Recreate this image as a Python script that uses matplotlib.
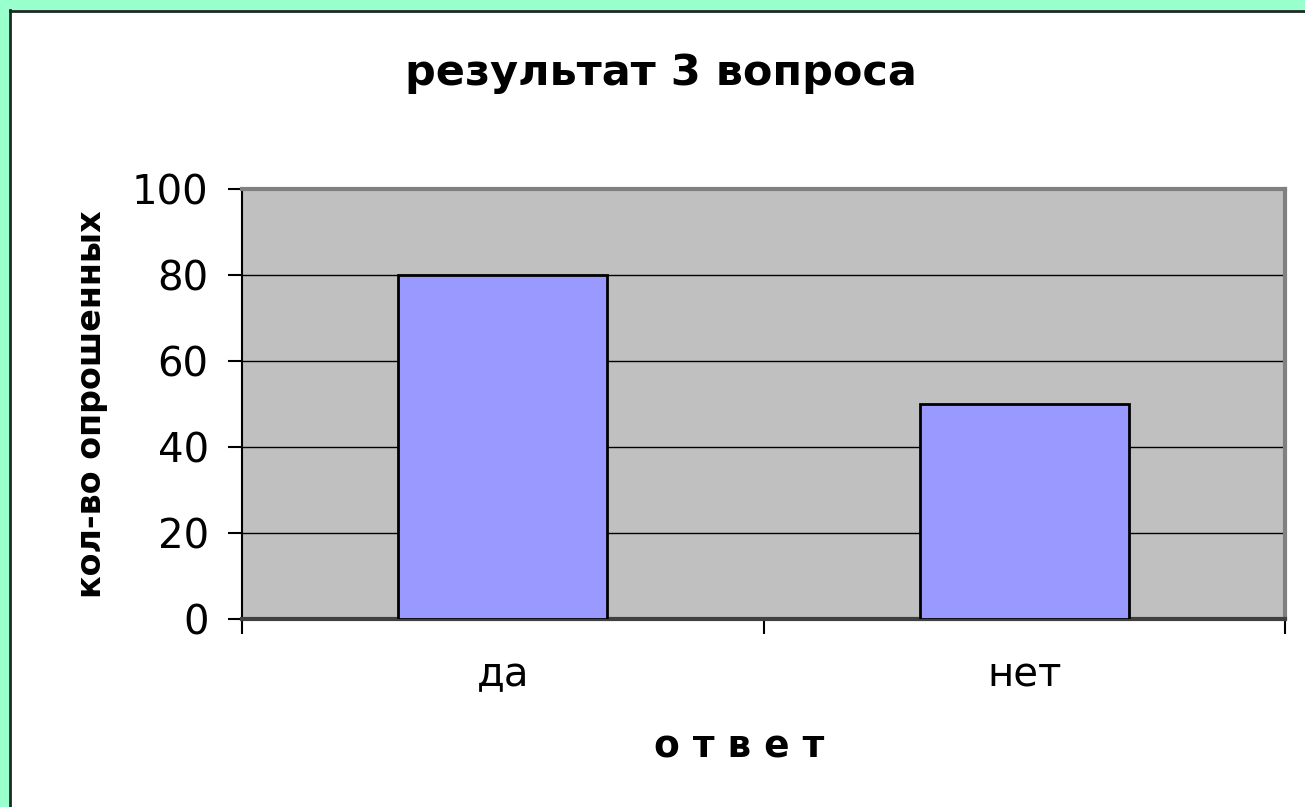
import matplotlib.pyplot as plt
from matplotlib.patches import Rectangle
from matplotlib.lines import Line2D

categories = ["да", "нет"]
values = [80, 50]
y_ticks = [0, 20, 40, 60, 80, 100]

plt.rcParams['font.family'] = ['DejaVu Sans']

fig = plt.figure(figsize=(13.05, 8.07), dpi=100)
fig.patch.set_facecolor('white')

# green frame on top and left, with a dark inner line
W, H = 1305, 807
fig.add_artist(Rectangle((0, 1 - 10 / H), 1, 10 / H, transform=fig.transFigure,
                         facecolor='#99FFCC', edgecolor='none'))
fig.add_artist(Rectangle((0, 0), 9 / W, 1, transform=fig.transFigure,
                         facecolor='#99FFCC', edgecolor='none'))
fig.add_artist(Line2D([9.5 / W, 9.5 / W], [0, 1 - 10 / H], transform=fig.transFigure,
                      color='#1a2a22', lw=2))
fig.add_artist(Line2D([9.5 / W, 1], [1 - 10.5 / H, 1 - 10.5 / H], transform=fig.transFigure,
                      color='#1a2a22', lw=2))

ax = fig.add_axes([242 / W, 1 - 619 / H, (1285 - 242) / W, (619 - 189) / H])
ax.set_facecolor('#C0C0C0')

x = list(range(len(categories)))
ax.bar(x, values, width=0.4, color='#9999FF', edgecolor='black', linewidth=2, zorder=3)

ax.set_xlim(-0.5, len(categories) - 0.5)
ax.set_ylim(0, 100)
ax.set_yticks(y_ticks)
ax.set_yticklabels([str(v) for v in y_ticks], fontsize=29)
ax.yaxis.grid(True, color='black', linewidth=1, zorder=1)
ax.set_axisbelow(True)

# category boundaries as x tick marks, labels at centers
ax.set_xticks([-0.5, 0.5, 1.5])
ax.set_xticklabels([])
ax.set_xticks(x, minor=True)
ax.set_xticklabels(categories, minor=True, fontsize=29)
ax.tick_params(axis='x', which='major', length=11, width=1.5, color='black', direction='out')
ax.tick_params(axis='x', which='minor', length=0, pad=26)
ax.tick_params(axis='y', length=10, width=1.5, direction='out', pad=14)

for side in ['top', 'right']:
    ax.spines[side].set_color('#808080')
    ax.spines[side].set_linewidth(3)
ax.spines['left'].set_color('black')
ax.spines['left'].set_linewidth(1.5)
ax.spines['bottom'].set_color('#404040')
ax.spines['bottom'].set_linewidth(3)

fig.text(92 / W, 1 - 404 / H, 'кол-во опрошенных', fontsize=24, fontweight='bold',
         rotation=90, ha='center', va='center')
fig.text(739 / W, 1 - 748 / H, 'о т в е т', fontsize=27, fontweight='bold',
         ha='center', va='center')
fig.text(661 / W, 1 - 73 / H, 'результат 3 вопроса', fontsize=31, fontweight='bold',
         ha='center', va='center')

fig.savefig('out.png', dpi=100)
